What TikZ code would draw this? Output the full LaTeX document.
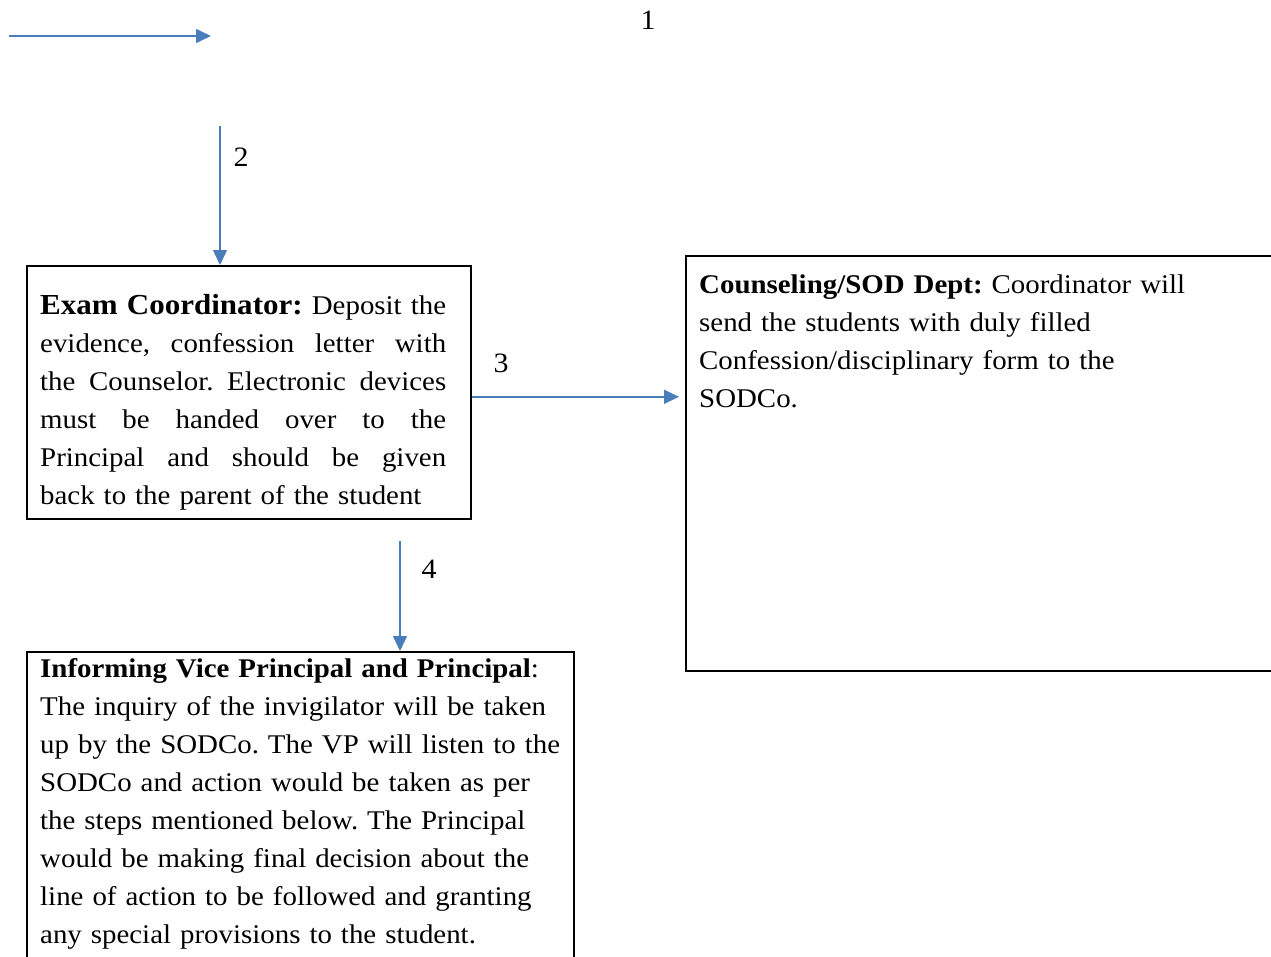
\documentclass[tikz,border=0pt]{standalone}
\usepackage{fontspec}
\setmainfont{Liberation Serif}[FakeStretch=1.07]
\usetikzlibrary{arrows.meta,calc}
\definecolor{flowblue}{HTML}{4A7EBB}
\newcommand{\jline}[1]{{\spaceskip=.25em plus 1fil\makebox[406pt][s]{#1}}}
\frenchspacing

\begin{document}
\begin{tikzpicture}[x=1pt,y=-1pt,
  box/.style={draw,line width=1.6pt,inner sep=0pt,anchor=north west},
  txt/.style={anchor=base west,inner sep=0pt,align=left,text width=560pt,font=\fontsize{27}{38}\selectfont\frenchspacing},
  num/.style={inner sep=0pt,font=\fontsize{28}{30}\selectfont},
  flow/.style={flowblue,line width=1.5pt,-{Triangle[length=15pt,width=14pt]}}]
  \useasboundingbox (0,0) rectangle (1271,956);
  \clip (0,0) rectangle (1271,956);

  \node[box,minimum width=444pt,minimum height=253pt] (exam) at (26,265) {};
  \node[box,minimum width=620pt,minimum height=415pt] (sod) at (685,255) {};
  \node[box,minimum width=547pt,minimum height=330pt] (vp) at (26,651) {};

  \node[txt,text width=406pt] (examtxt) at (40,314) {%
    \jline{{\fontsize{29}{38}\selectfont\bfseries Exam Coordinator:} Deposit the}\\
    \jline{evidence, confession letter with}\\
    \jline{the Counselor. Electronic devices}\\
    \jline{must be handed over to the}\\
    \jline{Principal and should be given}\\
    back to the parent of the student};
  \node[txt] (sodtxt) at (699,293) {%
    \textbf{Counseling/SOD Dept:} Coordinator will\\
    send the students with duly filled\\
    Confession/disciplinary form to the\\
    SODCo.};
  \node[txt] (vptxt) at (40,677) {%
    \textbf{Informing Vice Principal and Principal}:\\
    The inquiry of the invigilator will be taken\\
    up by the SODCo. The VP will listen to the\\
    SODCo and action would be taken as per\\
    the steps mentioned below. The Principal\\
    would be making final decision about the\\
    line of action to be followed and granting\\
    any special provisions to the student.};

  \coordinate (s1) at (9,36);
  \coordinate (e1) at (211,36);
  \coordinate (s2) at (220,126);
  \coordinate (s3) at ([yshift=-4.5pt]exam.east);
  \coordinate (s4) at (400,541);

  \draw[flow] (s1) -- (e1);
  \draw[flow] (s2) -- (s2 |- exam.north);
  \draw[flow,shorten >=6pt] (s3) -- (s3 -| sod.west);
  \draw[flow] (s4) -- (s4 |- vp.north);

  \node[num] (n1) at (648,20) {1};
  \node[num] (n2) at (241,157) {2};
  \node[num] (n3) at (501,363) {3};
  \node[num] (n4) at (429,569) {4};
\end{tikzpicture}
\end{document}
